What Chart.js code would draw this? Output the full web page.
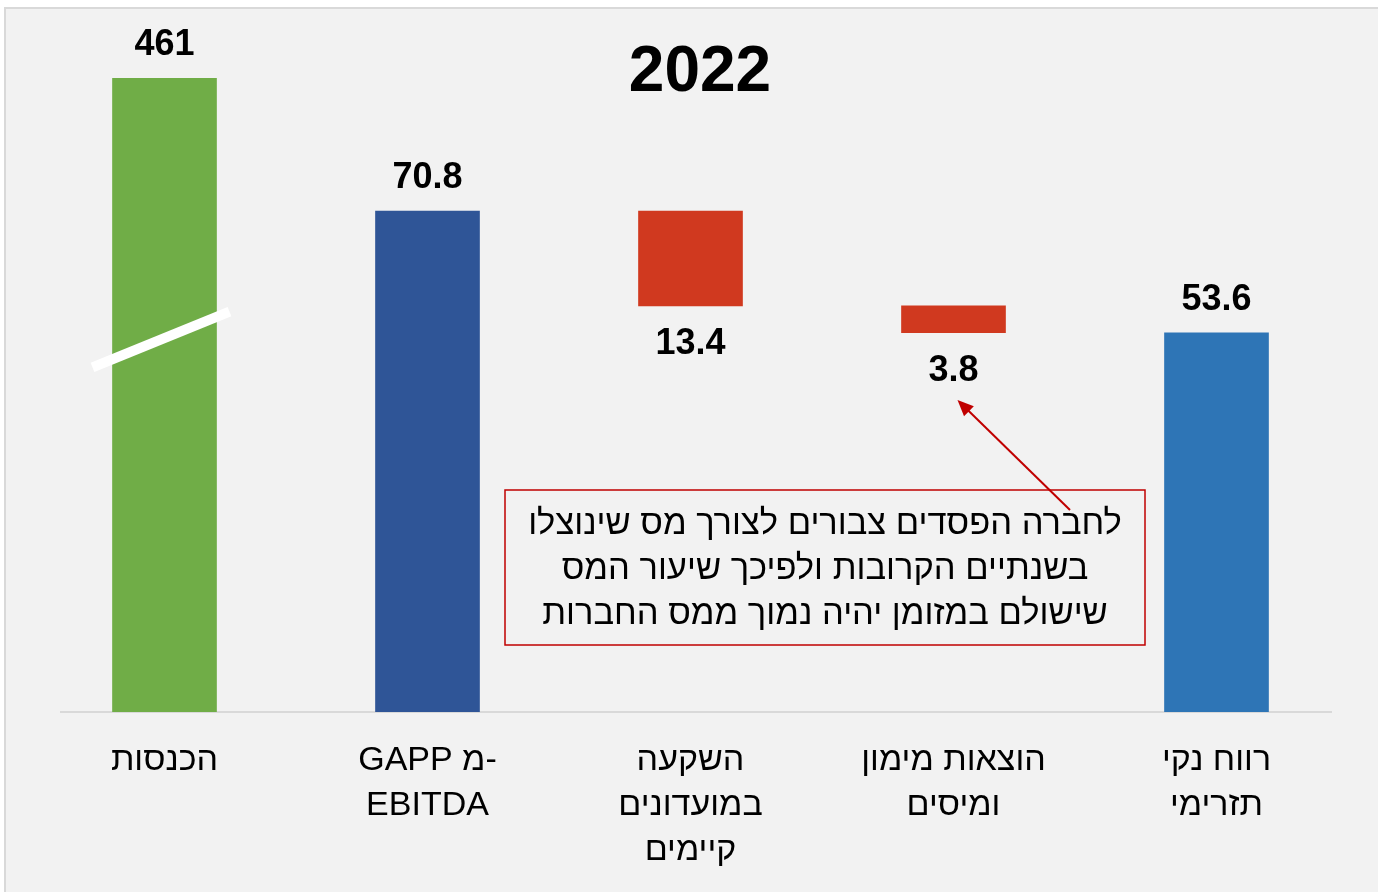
<!DOCTYPE html>
<html>
<head>
<meta charset="utf-8">
<script src="https://cdn.jsdelivr.net/npm/chart.js@4.4.1/dist/chart.umd.min.js"></script>
<style>
  html, body { margin: 0; padding: 0; background: #ffffff; }
  #wrap { position: relative; width: 1378px; height: 892px; }
</style>
</head>
<body>
<div id="wrap"><canvas id="myChart" width="1378" height="892"></canvas></div>
<script>
// data
var categories = [
  ["הכנסות"],
  ["GAPP מ-", "EBITDA"],
  ["השקעה", "במועדונים", "קיימים"],
  ["הוצאות מימון", "ומיסים"],
  ["רווח נקי", "תזרימי"]
]
var values = [461, 70.8, -13.4, -3.8, 53.6]
var kinds = ["total", "total", "step", "step", "total"]
var barColors = ["#70AD47", "#2F5597", "#D0391F", "#D0391F", "#2E75B6"]
var axisMax = 89.6   // axis is cut, first bar runs off the top
var title = "2022"
var note = [
  "לחברה הפסדים צבורים לצורך מס שינוצלו",
  "בשנתיים הקרובות ולפיכך שיעור המס",
  "שישולם במזומן יהיה נמוך ממס החברות"
]

// waterfall ranges
var ranges = []
var running = 0
for (var i = 0; i < values.length; i++) {
  if (kinds[i] == "total") {
    ranges.push([0, values[i]])
    running = values[i]
  } else {
    ranges.push([running + values[i], running])
    running = running + values[i]
  }
}

var fontName = "'Liberation Sans', Arial, sans-serif"

var backPlugin = {
  id: "back",
  beforeDraw: function (chart) {
    var ctx = chart.ctx
    ctx.save()
    ctx.fillStyle = "#ffffff"
    ctx.fillRect(0, 0, chart.width, chart.height)
    ctx.fillStyle = "#F2F2F2"
    ctx.fillRect(5, 8, chart.width, chart.height)
    ctx.strokeStyle = "#D9D9D9"
    ctx.lineWidth = 2
    ctx.strokeRect(5, 8, chart.width + 10, chart.height + 10)
    // base line
    var y0 = chart.scales.y.getPixelForValue(0)
    ctx.strokeStyle = "#D9D9D9"
    ctx.lineWidth = 2
    ctx.beginPath()
    ctx.moveTo(60, y0)
    ctx.lineTo(1332, y0)
    ctx.stroke()
    ctx.restore()
  }
}

var labelPlugin = {
  id: "labels",
  afterDatasetsDraw: function (chart) {
    var ctx = chart.ctx
    var meta = chart.getDatasetMeta(0)
    var ys = chart.scales.y
    ctx.save()
    // break mark on the first bar
    var b0 = meta.data[0]
    ctx.strokeStyle = "#ffffff"
    ctx.lineWidth = 10
    ctx.beginPath()
    ctx.moveTo(b0.x - 72, ys.getPixelForValue(48.7))
    ctx.lineTo(b0.x + 65, ys.getPixelForValue(56.6))
    ctx.stroke()

    ctx.fillStyle = "#000000"
    ctx.font = "bold 36px " + fontName
    ctx.textAlign = "center"
    ctx.textBaseline = "middle"
    for (var i = 0; i < meta.data.length; i++) {
      var bar = meta.data[i]
      if (values[i] >= 0) {
        ctx.fillText(String(values[i]), bar.x, Math.max(bar.y, chart.chartArea.top) - 33)
      } else {
        ctx.fillText(String(Math.abs(values[i])), bar.x, bar.base + 38)
      }
    }

    // title
    ctx.font = "bold 64px " + fontName
    ctx.fillText(title, 700, 73)

    // note box
    ctx.strokeStyle = "#C00000"
    ctx.lineWidth = 1.5
    ctx.strokeRect(505, 490, 640, 155)
    ctx.font = "34.5px " + fontName
    for (var k = 0; k < note.length; k++) {
      ctx.fillText(note[k], 825, 524 + k * 45)
    }

    // arrow to the 3.8 label
    var tipX = meta.data[3].x + 4
    var tipY = 400
    var fromX = 1070, fromY = 510
    var ang = Math.atan2(tipY - fromY, tipX - fromX)
    ctx.strokeStyle = "#C00000"
    ctx.fillStyle = "#C00000"
    ctx.lineWidth = 2
    ctx.beginPath()
    ctx.moveTo(fromX, fromY)
    ctx.lineTo(tipX - 10 * Math.cos(ang), tipY - 10 * Math.sin(ang))
    ctx.stroke()
    ctx.beginPath()
    ctx.moveTo(tipX, tipY)
    ctx.lineTo(tipX - 16 * Math.cos(ang) + 7 * Math.sin(ang), tipY - 16 * Math.sin(ang) - 7 * Math.cos(ang))
    ctx.lineTo(tipX - 16 * Math.cos(ang) - 7 * Math.sin(ang), tipY - 16 * Math.sin(ang) + 7 * Math.cos(ang))
    ctx.closePath()
    ctx.fill()
    ctx.restore()
  }
}

const ctx = document.getElementById("myChart")

new Chart(ctx, {
  type: "bar",
  data: {
    labels: categories,
    datasets: [{
      data: ranges,
      backgroundColor: barColors,
      borderWidth: 0,
      barThickness: 104,
      clip: 0
    }]
  },
  options: {
    responsive: false,
    animation: false,
    devicePixelRatio: 1,
    layout: { padding: { left: 33, right: 30, top: 78, bottom: 0 } },
    plugins: {
      legend: { display: false },
      tooltip: { enabled: false }
    },
    scales: {
      x: {
        grid: { display: false, drawTicks: false },
        border: { display: false },
        ticks: {
          color: "#000000",
          padding: 26,
          maxRotation: 0,
          autoSkip: false,
          font: { family: fontName, size: 34, lineHeight: "45px" }
        },
        afterFit: function (scale) { scale.height = 180 }
      },
      y: {
        display: false,
        min: 0,
        max: axisMax
      }
    }
  },
  plugins: [backPlugin, labelPlugin]
})
</script>
</body>
</html>
